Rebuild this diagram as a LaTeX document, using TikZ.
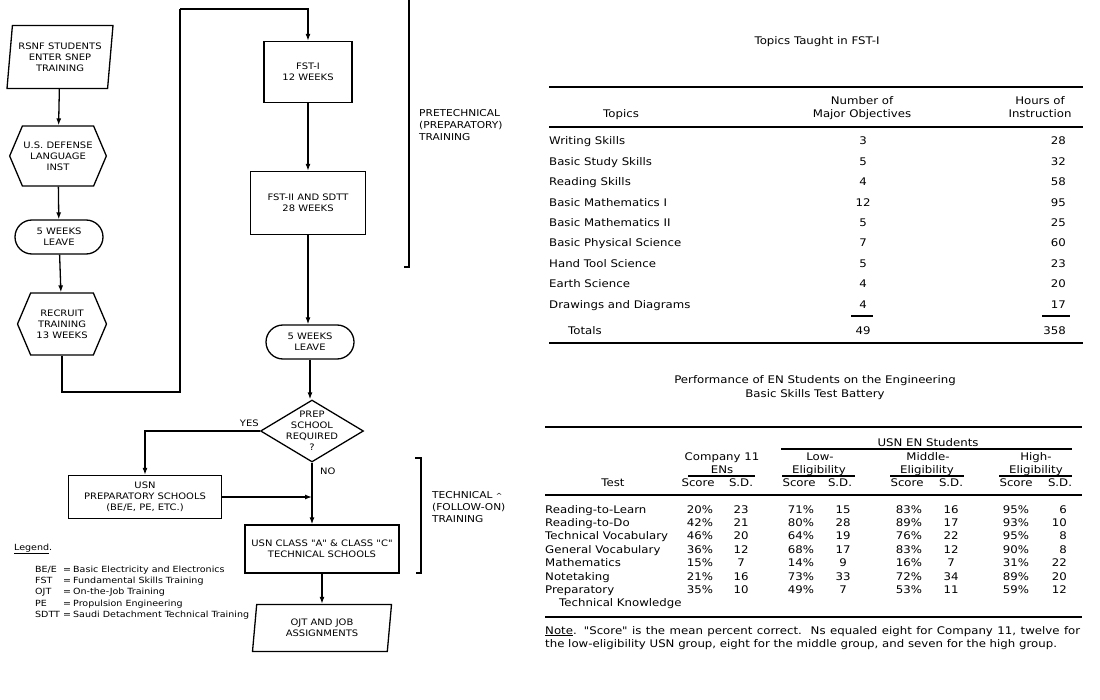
\documentclass[tikz,border=0pt]{standalone}
\usepackage{fontspec}
\setmainfont{DejaVu Sans}[FakeStretch=1.12,Ligatures=TeXOff]
\usetikzlibrary{arrows.meta,positioning,shapes.geometric,shapes.misc,shapes.symbols}

\begin{document}
\begin{tikzpicture}[x=1pt,y=-1pt,
    every node/.style={font=\fontsize{8.9}{11}\selectfont,inner sep=1pt},
    box/.style={rectangle,draw,line width=1.3pt,align=center},
    io/.style={trapezium,trapezium left angle=80,trapezium right angle=100,trapezium stretches body,draw,line width=1.3pt,align=center},
    hexa/.style={signal,signal to=west and east,signal pointer angle=134,draw,line width=1.3pt,align=center,minimum width=89pt,minimum height=60pt},
    leave/.style={rounded rectangle,draw,line width=1.3pt,align=center,minimum width=90pt,minimum height=34pt},
    decide/.style={diamond,draw,line width=1.3pt,minimum width=103pt,minimum height=62pt,inner sep=0pt},
    arrow/.style={-{Latex[length=7pt,width=5pt]},line width=1.3pt},
    link/.style={line width=1.3pt},
    side/.style={font=\fontsize{9.5}{12}\selectfont,align=left,anchor=west},
    tab/.style={font=\fontsize{10.5}{13}\selectfont,inner sep=0pt},
    rule/.style={line width=1.2pt}
]
\useasboundingbox (0,0) rectangle (1100,700);

% left column
\node[io,minimum width=106pt,minimum height=63pt] (start) at (60,57) {RSNF STUDENTS\\ENTER SNEP\\TRAINING};
\node[hexa] (dli) at (58,156) {U.S. DEFENSE\\LANGUAGE\\INST};
\node[leave] (leave1) at (59,237) {5 WEEKS\\LEAVE};
\node[hexa,minimum height=62pt] (recruit) at (62,324) {RECRUIT\\TRAINING\\13 WEEKS};
\draw[arrow] (start) -- (dli);
\draw[arrow] (dli) -- (leave1);
\draw[arrow] (leave1) -- (recruit);

% right column
\node[box,minimum width=88pt,minimum height=61pt] (fst1) at (308,72) {FST-I\\12 WEEKS};
\node[box,minimum width=115pt,minimum height=63pt] (fst2) at (308,203) {FST-II AND SDTT\\28 WEEKS};
\node[leave] (leave2) at (310,342) {5 WEEKS\\LEAVE};
\node[decide,label={[align=center,font=\fontsize{8.9}{11}\selectfont]center:PREP\\SCHOOL\\REQUIRED\\?}] (prep) at (312,431) {};
\node[box,minimum width=153pt,minimum height=43pt] (prepsch) at (145,497) {USN\\PREPARATORY SCHOOLS\\(BE/E, PE, ETC.)};
\node[box,minimum width=154pt,minimum height=48pt] (usnc) at (322,549) {USN CLASS "A" \& CLASS "C"\\TECHNICAL SCHOOLS};
\node[io,trapezium left angle=78,trapezium right angle=102,minimum width=139pt,minimum height=47pt] (ojt) at (322,628) {OJT AND JOB\\ASSIGNMENTS};

% loop back to FST-I
\coordinate (loopB) at (180,392);
\coordinate (loopT) at (180,9);
\draw[link] (recruit.south) |- (loopB) -- (loopT);
\draw[arrow] (loopT) -| (fst1.north);

\draw[arrow] (fst1.south) -- (fst1.south |- fst2.north);
\draw[arrow] (fst2.south) -- (fst2.south |- leave2.north);
\draw[arrow] (leave2.south) -- (leave2.south |- prep.north);
\draw[arrow] (prep.west) -| (prepsch.north);
\node[anchor=south east] (yes) at ([yshift=3pt]prep.west) {YES};
\coordinate (join) at (prep.south |- prepsch.east);
\draw[arrow] (prep.south) -- (prep.south |- usnc.north);
\node[anchor=north west] (no) at ([xshift=7pt,yshift=-4pt]prep.south) {NO};
\draw[arrow] (prepsch.east) -- (join);
\draw[arrow] (usnc.south) -- (usnc.south |- ojt.north);

% brackets
\draw[link] (409,0) -- (409,267) -- (404,267);
\node[side] (pretech) at (418,125) {PRETECHNICAL\\(PREPARATORY)\\TRAINING};
\draw[link] (415,458) -- (421,458) -- (421,573) -- (416,573);
\node[side] (tech) at (431,507) {TECHNICAL {\fontsize{7}{7}\selectfont\textasciicircum}\\(FOLLOW-ON)\\TRAINING};

% legend
\node[anchor=base west,font=\fontsize{8.5}{11}\selectfont] (legtitle) at (13,550) {\underline{Legend}.};
\node[anchor=north west,inner sep=0pt,font=\fontsize{8.5}{11.3}\selectfont] (legend) at (35,564)
  {\begin{tabular}{@{}p{28pt}@{}p{10pt}@{}l@{}}
   BE/E & = & Basic Electricity and Electronics\\
   FST & = & Fundamental Skills Training\\
   OJT & = & On-the-Job Training\\
   PE & = & Propulsion Engineering\\
   SDTT & = & Saudi Detachment Technical Training
   \end{tabular}};

% table: topics taught in FST-I
\node[tab,anchor=base] (t1title) at (817,45) {Topics Taught in FST-I};
\draw[rule] (549,87) -- (1083,87);
\node[tab,anchor=base] (t1topics) at (621,118) {Topics};
\node[tab,anchor=base] (t1num) at (862,105) {Number of};
\node[tab,anchor=base] (t1maj) at (862,118) {Major Objectives};
\node[tab,anchor=base] (t1hrs) at (1040,105) {Hours of};
\node[tab,anchor=base] (t1ins) at (1040,118) {Instruction};
\draw[rule] (549,127) -- (1083,127);
\foreach \topic/\obj/\hrs [count=\i] in {Writing Skills/3/28, Basic Study Skills/5/32, Reading Skills/4/58,
    Basic Mathematics I/12/95, Basic Mathematics II/5/25, Basic Physical Science/7/60,
    Hand Tool Science/5/23, Earth Science/4/20, Drawings and Diagrams/4/17}
{
  \pgfmathsetmacro\yb{145+20.4*(\i-1)}
  \node[tab,anchor=base west] (t1r\i) at (549,\yb) {\topic};
  \node[tab,anchor=base] (t1o\i) at (863,\yb) {\obj};
  \node[tab,anchor=base east] (t1h\i) at (1066,\yb) {\hrs};
}
\draw[rule] (851,316) -- (873,316);
\draw[rule] (1042,316) -- (1070,316);
\node[tab,anchor=base west] (t1tot) at (568,335) {Totals};
\node[tab,anchor=base] (t1otot) at (863,335) {49};
\node[tab,anchor=base east] (t1htot) at (1066,335) {358};
\draw[rule] (549,343) -- (1083,343);

% table: performance of EN students
\node[tab,anchor=base] (t2title) at (815,384) {Performance of EN Students on the Engineering};
\node[tab,anchor=base] (t2title2) at (815,397) {Basic Skills Test Battery};
\draw[rule] (545,427) -- (1082,427);
\node[tab,anchor=base] (usn) at (928,446) {USN EN Students};
\draw[rule] (781,449) -- (1072,449);
\node[tab,anchor=base] (comp) at (722,460) {Company 11};
\node[tab,anchor=base] (ens) at (722,473) {ENs};
\node[tab,anchor=base] (low) at (820,460) {Low-};
\node[tab,anchor=base] (lowel) at (819,473) {Eligibility};
\node[tab,anchor=base] (mid) at (928,460) {Middle-};
\node[tab,anchor=base] (midel) at (927,473) {Eligibility};
\node[tab,anchor=base] (high) at (1036,460) {High-};
\node[tab,anchor=base] (highel) at (1036,473) {Eligibility};
\draw[rule] (688,476) -- (755,476);
\draw[rule] (782,476) -- (855,476);
\draw[rule] (890,476) -- (964,476);
\draw[rule] (999,476) -- (1072,476);
\node[tab,anchor=base] (test) at (613,486) {Test};
\foreach \sx/\dx [count=\k] in {698/741, 799/840, 907/951, 1016/1060}
{
  \node[tab,anchor=base] (score\k) at (\sx,486) {Score};
  \node[tab,anchor=base] (sd\k) at (\dx,486) {S.D.};
}
\draw[rule] (545,495) -- (1082,495);
\foreach \test/\cs/\csd/\ls/\lsd/\ms/\msd/\hs/\hsd [count=\i] in {
    Reading-to-Learn/20/23/71/15/83/16/95/6, Reading-to-Do/42/21/80/28/89/17/93/10,
    Technical Vocabulary/46/20/64/19/76/22/95/8, General Vocabulary/36/12/68/17/83/12/90/8,
    Mathematics/15/7/14/9/16/7/31/22, Notetaking/21/16/73/33/72/34/89/20,
    Preparatory/35/10/49/7/53/11/59/12}
{
  \pgfmathsetmacro\yb{513+13.4*(\i-1)}
  \node[tab,anchor=base west] (t2r\i) at (545,\yb) {\test};
  \node[tab,anchor=base] (t2cs\i) at (700,\yb) {\cs\%};
  \node[tab,anchor=base] (t2csd\i) at (741,\yb) {\csd};
  \node[tab,anchor=base] (t2ls\i) at (801,\yb) {\ls\%};
  \node[tab,anchor=base] (t2lsd\i) at (843,\yb) {\lsd};
  \node[tab,anchor=base] (t2ms\i) at (909,\yb) {\ms\%};
  \node[tab,anchor=base] (t2msd\i) at (951,\yb) {\msd};
  \node[tab,anchor=base] (t2hs\i) at (1016,\yb) {\hs\%};
  \node[tab,anchor=base east] (t2hsd\i) at (1067,\yb) {\hsd};
}
\node[tab,anchor=base west] (t2r8) at (559,606) {Technical Knowledge};
\draw[rule] (545,617) -- (1082,617);
\node[tab,anchor=base west] (note1) at (545,634)
  {\makebox[535pt][s]{\underline{Note}. "Score" is the mean percent correct.\ \ Ns equaled eight for Company 11, twelve for}};
\node[tab,anchor=base west] (note2) at (545,647)
  {the low-eligibility USN group, eight for the middle group, and seven for the high group.};
\end{tikzpicture}
\end{document}
